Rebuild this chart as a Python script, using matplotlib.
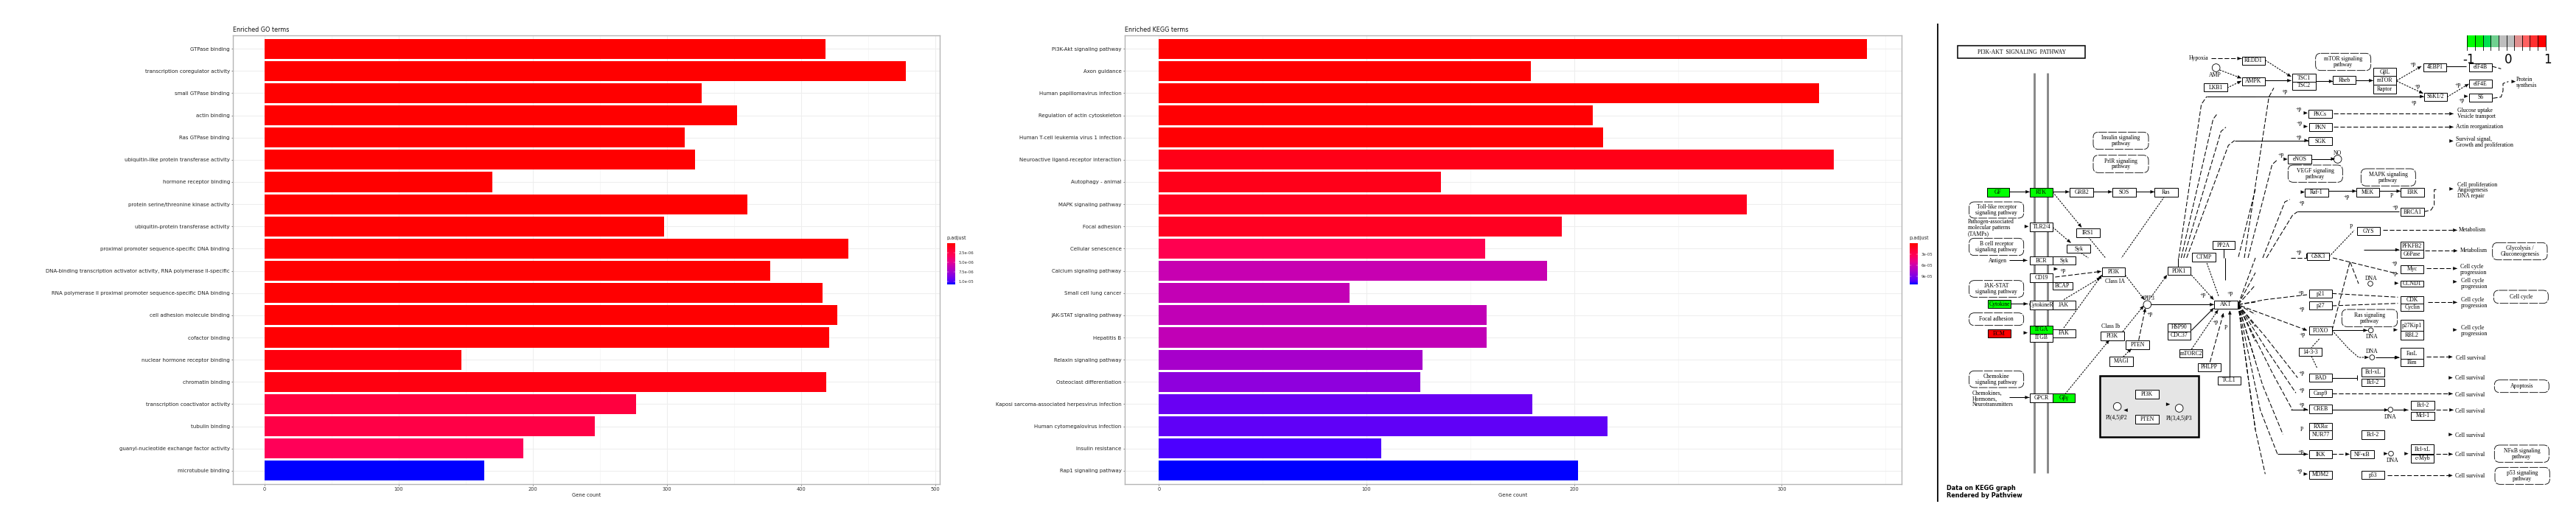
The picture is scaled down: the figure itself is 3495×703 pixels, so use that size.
import matplotlib
matplotlib.use("Agg")
import matplotlib.pyplot as plt
import numpy as np
from matplotlib.colors import LinearSegmentedColormap, Normalize
from matplotlib.patches import Rectangle, FancyBboxPatch, Polygon, Circle

W, H = 3495, 703

# ---------- chart data ----------
go_terms = ["GTPase binding", "transcription coregulator activity", "small GTPase binding", "actin binding",
            "Ras GTPase binding", "ubiquitin-like protein transferase activity", "hormone receptor binding",
            "protein serine/threonine kinase activity", "ubiquitin-protein transferase activity",
            "proximal promoter sequence-specific DNA binding",
            "DNA-binding transcription activator activity, RNA polymerase II-specific",
            "RNA polymerase II proximal promoter sequence-specific DNA binding", "cell adhesion molecule binding",
            "cofactor binding", "nuclear hormone receptor binding", "chromatin binding",
            "transcription coactivator activity", "tubulin binding", "guanyl-nucleotide exchange factor activity",
            "microtubule binding"]
go_counts = [418, 478, 326, 352, 313, 321, 170, 360, 298, 435, 377, 416, 427, 421, 147, 419, 277, 246, 193, 164]
go_padj = [1e-8, 1e-8, 2e-8, 2e-8, 2e-8, 3e-8, 4e-8, 4e-8, 5e-8, 5e-8, 6e-8, 6e-8, 7e-8, 1e-7,
           4.5e-7, 5.5e-7, 2.1e-6, 2.4e-6, 3.2e-6, 1.07e-5]
kegg_terms = ["PI3K-Akt signaling pathway", "Axon guidance", "Human papillomavirus infection",
              "Regulation of actin cytoskeleton", "Human T-cell leukemia virus 1 infection",
              "Neuroactive ligand-receptor interaction", "Autophagy - animal", "MAPK signaling pathway",
              "Focal adhesion", "Cellular senescence", "Calcium signaling pathway", "Small cell lung cancer",
              "JAK-STAT signaling pathway", "Hepatitis B", "Relaxin signaling pathway",
              "Osteoclast differentiation", "Kaposi sarcoma-associated herpesvirus infection",
              "Human cytomegalovirus infection", "Insulin resistance", "Rap1 signaling pathway"]
kegg_counts = [341, 179, 318, 209, 214, 325, 136, 283, 194, 157, 187, 92, 158, 158, 127, 126, 180, 216, 107, 202]
kegg_padj = [1e-7, 5e-7, 6e-7, 1.2e-6, 1.7e-6, 8e-6, 9e-6, 1.1e-5, 1.15e-5, 3e-5, 6.2e-5, 6.4e-5, 6.5e-5,
             6.5e-5, 7.6e-5, 8.4e-5, 9.7e-5, 9.9e-5, 1.04e-4, 1.12e-4]
go_cbar_ticks = [2.5e-6, 5e-6, 7.5e-6, 1e-5]
go_cbar_labels = ["2.5e-06", "5.0e-06", "7.5e-06", "1.0e-05"]
kegg_cbar_ticks = [3e-5, 6e-5, 9e-5]
kegg_cbar_labels = ["3e-05", "6e-05", "9e-05"]
key_colors = ["#00FF00", "#00F000", "#00E050", "#70D090", "#BEBEBE", "#BEBEBE", "#E09090", "#FF6060", "#FF3030", "#FF0000"]

cmap = LinearSegmentedColormap.from_list("padj", [
    (0, "#FF0000"), (.1, "#FF0020"), (.2, "#FF0040"), (.3, "#FF0058"), (.45, "#E80090"), (.55, "#C800B0"),
    (.65, "#B000C4"), (.75, "#9000DC"), (.85, "#7000F0"), (.93, "#4C00FF"), (1, "#0000FF")])

fig = plt.figure(figsize=(W / 100, H / 100), dpi=100, facecolor="white")


def pxaxes(x0, y0, x1, y1, **kw):
    return fig.add_axes([x0 / W, 1 - y1 / H, (x1 - x0) / W, (y1 - y0) / H], **kw)


def barpanel(box, xlim, terms, counts, padj, vmax, title, xmajor, xminor):
    ax = pxaxes(*box)
    y = np.arange(len(terms))
    norm = Normalize(0, vmax)
    ax.barh(y, counts, height=0.9, color=cmap(norm(np.array(padj))), zorder=3)
    ax.set_xlim(*xlim)
    ax.set_ylim(len(terms) - 0.4, -0.6)
    ax.set_yticks(y, terms, fontsize=5.05, color="#222222")
    ax.set_xticks(xmajor, [str(v) for v in xmajor], fontsize=4.8, color="#333333")
    ax.set_xticks(xminor, minor=True)
    ax.tick_params(axis="both", which="major", length=1.6, width=0.5, color="#444444", pad=1.2)
    ax.tick_params(axis="x", which="minor", length=0)
    ax.grid(True, which="major", color="#EEEEEE", lw=0.8, zorder=0)
    ax.grid(True, which="minor", axis="x", color="#F4F4F4", lw=0.5, zorder=0)
    for s in ax.spines.values():
        s.set_color("#B5B5B5")
        s.set_linewidth(1.0)
    ax.set_title(title, loc="left", fontsize=5.77, pad=3.4, color="#111111")
    ax.set_xlabel("Gene count", fontsize=4.9, labelpad=1.6, color="#222222")
    return ax


barpanel((315.7, 48, 1274.7, 657), (-23.7, 503.2), go_terms, go_counts, go_padj, 1.07e-5, "Enriched GO terms",
         [0, 100, 200, 300, 400, 500], [50, 150, 250, 350, 450])
barpanel((1525.5, 48, 2580.3, 657), (-16.6, 357.8), kegg_terms, kegg_counts, kegg_padj, 1.12e-4, "Enriched KEGG terms",
         [0, 100, 200, 300], [50, 150, 250, 350])


def legend(x0, vmax, ticks, labels):
    ax = pxaxes(x0, 330, x0 + 11, 386)
    ax.imshow(np.linspace(0, 1, 256)[:, None], cmap=cmap, aspect="auto", extent=(0, 1, vmax, 0))
    ax.set_xticks([])
    ax.yaxis.tick_right()
    ax.set_yticks(ticks, labels, fontsize=3.9, color="#333333")
    ax.tick_params(axis="y", length=0, pad=3.2)
    for t in ticks:
        ax.plot([0, .2], [t, t], color="white", lw=.3)
        ax.plot([.8, 1], [t, t], color="white", lw=.3)
    for s in ax.spines.values():
        s.set_visible(False)
    fig.text((x0 - 0.5) / W, 1 - 322.5 / H, "p.adjust", fontsize=4.7, va="center", color="#222222")


legend(1285, 1.07e-5, go_cbar_ticks, go_cbar_labels)
legend(2591, 1.12e-4, kegg_cbar_ticks, kegg_cbar_labels)

# ---------- KEGG pathway diagram, laid out in crop coordinates of four quadrants ----------
dg = fig.add_axes([0, 0, 1, 1], zorder=-1)
dg.set_xlim(0, W)
dg.set_ylim(H, 0)
dg.axis("off")
ORI = {"a": (2620, 0), "b": (3040, 0), "c": (2620, 350), "d": (3040, 350)}
FS = 5.6
FAM = ["Liberation Serif", "DejaVu Serif"]
G, R = "#00FF00", "#FF0000"


def P(q, x, y):
    ox, oy = ORI[q]
    return ox + x / 3, oy + y / 3


def label(q, x, y, s, ha="center", fs=FS, **kw):
    px, py = P(q, x, y)
    dg.text(px, py, s, ha=ha, va="center", fontsize=fs, family=FAM, linespacing=0.95, color="black", zorder=6, **kw)


def box(q, x0, y0, x1, y1, s="", fc="white", ec="black", lw=0.7):
    a, b = P(q, x0, y0), P(q, x1, y1)
    dg.add_patch(Rectangle(a, b[0] - a[0], b[1] - a[1], fc=fc, ec=ec, lw=lw, zorder=4))
    if s:
        label(q, (x0 + x1) / 2, (y0 + y1) / 2, s)


def rnd(q, x0, y0, x1, y1, s):
    a, b = P(q, x0, y0), P(q, x1, y1)
    dg.add_patch(FancyBboxPatch((a[0] + 5, a[1] + 5), b[0] - a[0] - 10, b[1] - a[1] - 10,
                                boxstyle="round,pad=5,rounding_size=7", fc="white", ec="black", lw=0.6,
                                ls=(0, (14, 2)), zorder=4))
    label(q, (x0 + x1) / 2, (y0 + y1) / 2, s)


def head(a, b, size=5.0):
    d = np.array(b) - np.array(a)
    n = np.hypot(*d)
    if n == 0:
        return
    d = d / n
    nrm = np.array([-d[1], d[0]])
    tip = np.array(b)
    base = tip - d * size
    dg.add_patch(Polygon([tip, base + nrm * size * .42, base - nrm * size * .42], fc="black", ec="black", lw=.2, zorder=5))


def link(q, pts, ls="-", arrow=True, lw=0.75):
    xy = [P(q, *p) for p in pts]
    xs, ys = zip(*xy)
    styles = {"-": "-", "--": (0, (6, 2.5)), ":": (0, (2.2, 1.4))}
    dg.plot(xs, ys, color="black", lw=lw, ls=styles[ls], zorder=3, solid_capstyle="butt")
    if arrow:
        head(xy[-2], xy[-1])


def stub(q, x, y, dx=14):
    xy = P(q, x, y)
    head((xy[0] - dx / 3, xy[1]), xy)


def circ(q, x, y, r=16):
    dg.add_patch(Circle(P(q, x, y), r / 3, fc="white", ec="black", lw=.6, zorder=4))


# black divider and membrane
link("a", [(28, 96), (28, 1050)], arrow=False, lw=1.3)
link("c", [(28, 0), (28, 992)], arrow=False, lw=1.3)
for mx in (421, 475):
    a = P("a", mx, 297)
    dg.plot([a[0], a[0]], [99, 641.7], color="#888888", lw=2.1, zorder=1, solid_capstyle="butt")

box("a", 109, 187, 628, 238, "PI3K-AKT  SIGNALING  PATHWAY", lw=1.1)
a_boxes = [(227, 766, 317, 800, "GF", G), (403, 766, 495, 800, "RTK", G), (565, 766, 659, 800, "GRB2", "white"),
           (739, 766, 833, 800, "SOS", "white"), (910, 766, 1004, 800, "Ras", "white"),
           (403, 907, 495, 941, "TLR2/4", "white"), (592, 930, 686, 965, "IRS1", "white"),
           (553, 995, 647, 1030, "Syk", "white"), (1145, 982, 1235, 1015, "PP2A", "white"),
           (1063, 1030, 1157, 1065, "CTMP", "white"), (1111, 340, 1205, 373, "LKB1", "white")]
for x0, y0, x1, y1, s, c in a_boxes:
    box("a", x0, y0, x1, y1, s, fc=c)
for x0, y0, x1, y1, s in [(155, 822, 377, 888, "Toll-like receptor\nsignaling pathway"),
                          (155, 970, 377, 1040, "B cell receptor\nsignaling pathway"),
                          (660, 538, 885, 608, "Insulin signaling\npathway"),
                          (660, 632, 885, 703, "PrlR signaling\npathway")]:
    rnd("a", x0, y0, x1, y1, s)
label("a", 150, 927, "Pathogen-associated\nmolecular patterns\n(TAMPs)", ha="left")
label("a", 1090, 237, "Hypoxia")
label("a", 1155, 305, "AMP")
circ("a", 1160, 276)
for pts, ls in [([(317, 781), (400, 781)], "-"), ([(495, 781), (562, 781)], "-"), ([(659, 781), (736, 781)], "-"),
                ([(833, 781), (908, 781)], "-"), ([(495, 782), (612, 925)], ":"), ([(495, 925), (568, 988)], ":"),
                ([(1140, 238), (1262, 238)], "--"), ([(1175, 285), (1262, 318)], ":"),
                ([(1205, 358), (1262, 330)], ":")]:
    link("a", pts, ls)
stub("a", 396, 922)
link("a", [(950, 800), (775, 1050)], ":", arrow=False)
link("a", [(640, 965), (710, 1050)], ":", arrow=False)
link("a", [(610, 1030), (640, 1050)], ":", arrow=False)
link("a", [(1190, 1015), (1190, 1050)], "-", arrow=False)
for pts in ([(1008, 1050), (1100, 425), (1122, 393)], [(1018, 1050), (1148, 485), (1165, 463)],
            [(1028, 1050), (1180, 535), (1200, 518)], [(1040, 1050), (1210, 592), (1235, 572)]):
    link("a", pts, "--", arrow=False)
link("a", [(1122, 393), (1320, 393)], "-", arrow=False)
link("a", [(1235, 572), (1320, 572)], "-", arrow=False)
link("a", [(1320, 770), (1250, 1050)], "--", arrow=False)

b_boxes = [(5, 230, 100, 263, "REDD1"), (5, 315, 100, 348, "AMPK"), (211, 300, 305, 333, "TSC1"),
           (211, 333, 305, 365, "TSC2"), (375, 310, 468, 343, "Rheb"), (541, 277, 633, 310, "GβL"),
           (541, 310, 633, 345, "mTOR"), (541, 345, 633, 380, "Raptor"), (745, 258, 836, 290, "4EBP1"),
           (930, 258, 1023, 290, "eIF4B"), (930, 325, 1023, 358, "eIF4E"), (930, 380, 1023, 415, "S6"),
           (748, 378, 840, 410, "S6K1/2"), (277, 448, 371, 481, "PKCs"), (280, 502, 371, 535, "PKN"),
           (277, 558, 371, 592, "SGK"), (193, 631, 287, 665, "eNOS"), (262, 768, 356, 800, "Raf-1"),
           (472, 766, 565, 800, "MEK"), (652, 766, 746, 800, "ERK"), (652, 847, 746, 880, "BRCA1"),
           (475, 925, 566, 958, "GYS"), (652, 985, 744, 1018, "PFKFB2"), (652, 1018, 744, 1050, "G6Pase"),
           (268, 1033, 360, 1050, "")]
for x0, y0, x1, y1, s in b_boxes:
    box("b", x0, y0, x1, y1, s)
for x0, y0, x1, y1, s in [(305, 217, 530, 287, "mTOR signaling\npathway"), (193, 672, 415, 742, "VEGF signaling\npathway"),
                          (490, 687, 712, 757, "MAPK signaling\npathway"), (1025, 988, 1248, 1058, "Glycolysis /\nGluconeogenesis")]:
    rnd("b", x0, y0, x1, y1, s)
circ("b", 395, 648)
label("b", 395, 623, "NO")
for x, y, s in [(1122, 336, "Protein\nsynthesis"), (882, 463, "Glucose uptake\nVesicle transport"),
                (875, 516, "Actin reorganization"), (876, 580, "Survival signal,\nGrowth and proliferation"),
                (882, 775, "Cell proliferation\nAngiogenesis\nDNA repair"), (888, 936, "Metabolism"),
                (893, 1020, "Metabolism")]:
    label("b", x, y, s, ha="left")
for x, y, s in [(700, 260, "+p"), (720, 350, "+p"), (885, 345, "+p"), (900, 408, "+p"), (705, 418, "+p"), (178, 373, "+p"),
                (235, 443, "+p"), (240, 500, "+p"), (235, 557, "+p"), (165, 630, "+p"), (248, 826, "+p"), (432, 800, "+p"),
                (615, 798, "P"), (628, 843, "+p"), (450, 923, "P"), (235, 1025, "+p")]:
    label("b", x, y, s)
for pts, ls in [([(100, 328), (205, 328)], "-"), ([(100, 245), (205, 312)], ":"), ([(305, 331), (375, 331)], "-"),
                ([(468, 328), (538, 328)], "-"), ([(635, 328), (735, 270)], ":"), ([(635, 330), (742, 380)], ":"),
                ([(0, 393), (745, 393)], "-"), ([(840, 395), (928, 342)], ":"), ([(378, 463), (865, 463)], "--"),
                ([(378, 517), (865, 517)], "--"), ([(0, 572), (275, 572)], "-"), ([(287, 647), (383, 647)], "-"),
                ([(356, 778), (470, 778)], "-"), ([(565, 778), (650, 778)], "-"), ([(580, 937), (880, 937)], "--"),
                ([(750, 1021), (882, 1021)], "--"), ([(500, 1017), (645, 1017)], "-")]:
    link("b", pts, ls)
for x, y in [(272, 460), (272, 515), (190, 648), (260, 782), (865, 574), (865, 769), (925, 392), (1118, 332)]:
    stub("b", x, y)
link("b", [(232, 862), (645, 862)], "-", arrow=False)
link("b", [(746, 862), (775, 855), (788, 835), (788, 772), (798, 772)], "--", arrow=False)
link("b", [(836, 270), (918, 270)], "-", arrow=False)
link("b", [(1023, 270), (1060, 280)], "--", arrow=False)
link("b", [(1027, 400), (1060, 395), (1068, 370), (1068, 340), (1090, 332)], "--", arrow=False)
for pts in ([(15, 1050), (115, 395), (135, 358)], [(30, 1050), (128, 670), (148, 652)],
            [(90, 1050), (180, 822), (200, 812)], [(105, 1050), (212, 875), (232, 862)],
            [(205, 1050), (360, 1050)]):
    link("b", pts, "--", arrow=False)
link("b", [(360, 1045), (462, 938)], ":", arrow=False)

c_boxes = [(403, -5, 495, 28, "BCR", "white"), (495, -5, 587, 28, "Syk", "white"), (403, 64, 495, 98, "CD19", "white"),
           (495, 98, 575, 130, "BCAP", "white"), (697, 40, 788, 74, "PI3K", "white"),
           (232, 172, 324, 205, "Cytokine", G), (403, 175, 495, 209, "CytokineR", "white"),
           (495, 175, 587, 209, "JAK", "white"), (232, 292, 324, 325, "ECM", R), (403, 275, 495, 308, "ITGA", G),
           (403, 308, 495, 342, "ITGB", "white"), (495, 290, 587, 324, "FAK", "white"),
           (403, 553, 495, 587, "GPCR", "white"), (495, 553, 585, 587, "Gβγ", G), (691, 300, 785, 335, "PI3K", "white"),
           (793, 336, 887, 371, "PTEN", "white"), (727, 403, 821, 440, "MAGI", "white"),
           (963, 37, 1055, 70, "PDK1", "white"), (1153, 173, 1247, 207, "AKT", "white"),
           (963, 266, 1055, 299, "HSP90", "white"), (963, 299, 1055, 332, "CDC37", "white"),
           (1012, 372, 1105, 405, "mTORC2", "white"), (1087, 428, 1178, 463, "PHLPP", "white"),
           (1168, 482, 1260, 515, "TCL1", "white")]
for x0, y0, x1, y1, s, c in c_boxes:
    box("c", x0, y0, x1, y1, s, fc=c)
for x0, y0, x1, y1, s in [(155, 92, 377, 160, "JAK-STAT\nsignaling pathway"), (155, 224, 377, 275, "Focal adhesion"),
                          (155, 460, 377, 528, "Chemokine\nsignaling pathway")]:
    rnd("c", x0, y0, x1, y1, s)
box("c", 687, 480, 1090, 730, fc="#E5E5E5", lw=1.8)
box("c", 832, 538, 926, 572, "PI3K")
box("c", 832, 640, 926, 674, "PTEN")
circ("c", 758, 605)
circ("c", 1010, 612)
label("c", 755, 648, "PI(4,5)P2")
label("c", 1010, 651, "PI(3,4,5)P3")
link("c", [(975, 620), (785, 620)], "-")
stub("c", 972, 596)
label("c", 272, 12, "Antigen")
label("c", 748, 97, "Class IA")
label("c", 730, 280, "Class Ib")
label("c", 890, 165, "PIP3")
label("c", 168, 574, "Chemokines,\nHormones,\nNeurotransmitters", ha="left")
for x, y, s in [(537, 50, "+p"), (1105, 150, "+p"), (1218, 143, "+p"), (890, 228, "+p"), (1158, 260, "+p"), (1200, 285, "P")]:
    label("c", x, y, s)
circ("c", 880, 190)
for pts, ls in [([(318, 10), (390, 10)], "-"), ([(324, 187), (392, 187)], "-"), ([(318, 568), (398, 568)], "-"),
                ([(505, 78), (692, 55)], "--"), ([(540, 170), (690, 80)], ":"), ([(540, 285), (695, 70)], ":"),
                ([(545, 555), (725, 335)], ":"), ([(790, 70), (868, 170)], ":"), ([(895, 160), (960, 70)], ":"),
                ([(780, 300), (865, 195)], ":"), ([(845, 335), (872, 205)], "--"), ([(782, 403), (815, 370)], ":"),
                ([(895, 190), (1150, 190)], "-"), ([(1060, 70), (1150, 170)], ":"), ([(1060, 295), (1150, 205)], "-"),
                ([(1060, 372), (1168, 212)], ":"), ([(1135, 425), (1190, 225)], "--"), ([(1216, 482), (1216, 215)], "-")]:
    link("c", pts, ls)
stub("c", 392, 305)
stub("c", 515, 45)
link("c", [(1005, 0), (1005, 37)], "-", arrow=False)
link("c", [(1115, 0), (1170, 155)], ":", arrow=False)
link("c", [(1198, 0), (1198, 90)], "-", arrow=False)
for ex, ey in [(1320, 0), (1320, 60), (1320, 110), (1320, 180), (1320, 230), (1320, 280), (1320, 340), (1320, 420), (1320, 700)]:
    link("c", [(1250, 190), (ex, ey)], "--", arrow=False)
label("c", 62, 938, "Data on KEGG graph", ha="left", fs=5.9)
label("c", 62, 968, "Rendered by Pathview", ha="left", fs=5.9)
for t in dg.texts[-2:]:
    t.set_family("DejaVu Sans")
    t.set_fontweight("bold")

d_boxes = [(270, -20, 360, 10, "GSK3"), (652, 30, 744, 62, "Myc"), (652, 92, 744, 116, "CCND1"), (652, 155, 744, 185, "CDK"),
           (652, 185, 744, 215, "Cyclin"), (652, 253, 744, 298, "p27Kip1"), (652, 298, 744, 332, "RBL2"),
           (280, 130, 371, 163, "p21"), (280, 178, 371, 211, "p27"), (280, 280, 371, 313, "FOXO"),
           (238, 367, 331, 400, "14-3-3"), (652, 367, 744, 412, "FasL"), (652, 412, 744, 440, "Bim"),
           (280, 472, 371, 505, "BAD"), (493, 447, 585, 482, "Bcl-xL"), (493, 493, 585, 523, "Bcl-2"),
           (280, 535, 371, 568, "Casp9"), (280, 598, 371, 632, "CREB"), (694, 583, 788, 617, "Bcl-2"),
           (694, 626, 788, 659, "Mcl-1"), (280, 672, 371, 703, "RXRα"), (280, 703, 371, 737, "NUR77"),
           (493, 703, 585, 737, "Bcl-2"), (280, 784, 371, 817, "IKK"), (448, 784, 542, 817, "NF-κB"),
           (694, 760, 786, 797, "Bcl-xL"), (694, 800, 786, 835, "c-Myb"), (280, 866, 371, 899, "MDM2"),
           (493, 868, 585, 901, "p53")]
for x0, y0, x1, y1, s in d_boxes:
    box("d", x0, y0, x1, y1, s)
for x0, y0, x1, y1, s in [(412, 210, 638, 280, "Ras signaling\npathway"), (1030, 132, 1252, 185, "Cell cycle"),
                          (1033, 497, 1255, 548, "Apoptosis"), (1033, 762, 1255, 832, "NFκB signaling\npathway"),
                          (1035, 853, 1258, 922, "p53 signaling\npathway")]:
    rnd("d", x0, y0, x1, y1, s)
for x, y in [(528, 105), (530, 295), (535, 405), (610, 618), (612, 797)]:
    circ("d", x, y, 10)
for x, y, s in [(530, 85, "DNA"), (533, 320, "DNA"), (533, 380, "DNA"), (610, 648, "DNA"), (618, 824, "DNA")]:
    label("d", x, y, s)
for x, y, s in [(893, 47, "Cell cycle\nprogression"), (897, 105, "Cell cycle\nprogression"), (897, 182, "Cell cycle\nprogression"),
                (897, 297, "Cell cycle\nprogression"), (875, 407, "Cell survival"), (872, 488, "Cell survival"),
                (872, 557, "Cell survival"), (872, 624, "Cell survival"), (872, 722, "Cell survival"),
                (872, 800, "Cell survival"), (872, 887, "Cell survival")]:
    label("d", x, y, s, ha="left")
for x, y, s in [(625, 20, "+p"), (625, 62, "+p"), (245, 140, "+p"), (247, 208, "+p"), (250, 313, "+p"), (247, 468, "+p"),
                (247, 538, "+p"), (247, 597, "+p"), (248, 698, "P"), (245, 788, "+p"), (240, 868, "+p")]:
    label("d", x, y, s)
for pts, ls in [([(757, 43), (880, 43)], "--"), ([(762, 181), (880, 181)], "--"), ([(372, 295), (515, 295)], "-"),
                ([(372, 295), (440, 370), (480, 405), (520, 405)], ":"), ([(550, 405), (645, 405)], "-"),
                ([(757, 403), (862, 403)], "--"), ([(372, 553), (862, 553)], "--"), ([(372, 619), (600, 619)], "-"),
                ([(622, 619), (680, 619)], "-"), ([(795, 619), (865, 619)], "--"), ([(372, 799), (442, 799)], "--"),
                ([(795, 799), (862, 799)], "--"), ([(597, 886), (862, 886)], "--"), ([(0, 195), (270, 295)], "--"),
                ([(150, 799), (272, 799)], "-"), ([(205, 617), (272, 617)], "-")]:
    link("d", pts, ls)
for x, y in [(642, 103), (880, 97), (638, 293), (880, 293), (862, 488), (862, 719), (272, 880), (598, 797), (682, 797), (642, 406)]:
    stub("d", x, y)
link("d", [(372, 488), (475, 488)], "-", arrow=False)
link("d", [(475, 478), (475, 498)], "-", arrow=False)
link("d", [(372, 145), (640, 160)], "--", arrow=False)
link("d", [(372, 195), (640, 185)], "--", arrow=False)
link("d", [(375, 0), (640, 65)], "--", arrow=False)
link("d", [(372, 295), (445, 15), (480, 105)], "--", arrow=False)
link("d", [(320, 330), (288, 365)], ":", arrow=False)
link("d", [(288, 400), (312, 450)], ":", arrow=False)
for ex, ey, kx, ky in [(270, 150, 100, 170), (232, 488, 100, 320), (225, 550, 110, 380), (210, 617, 130, 470),
                       (172, 718, 90, 520), (150, 799, 80, 620), (100, 880, 60, 700)]:
    link("d", [(-10, 190), (kx, ky), (ex, ey)], "--", arrow=False)

key_x = np.linspace(3347.3, 3453.7, len(key_colors) + 1)
for i, c in enumerate(key_colors):
    dg.add_patch(Rectangle((key_x[i], 48), key_x[i + 1] - key_x[i], 16, fc=c, ec="none", zorder=3))
    dg.plot([key_x[i]] * 2, [48, 67.7], color="black", lw=.6, zorder=4)
dg.plot([key_x[-1]] * 2, [48, 67.7], color="black", lw=.6, zorder=4)
for x, s in [(3349, "-1"), (3403, "0"), (3456, "1")]:
    dg.text(x, 81, s, ha="center", va="center", fontsize=12, family="DejaVu Sans", color="black", zorder=6)

fig.savefig("out.png", dpi=100)
